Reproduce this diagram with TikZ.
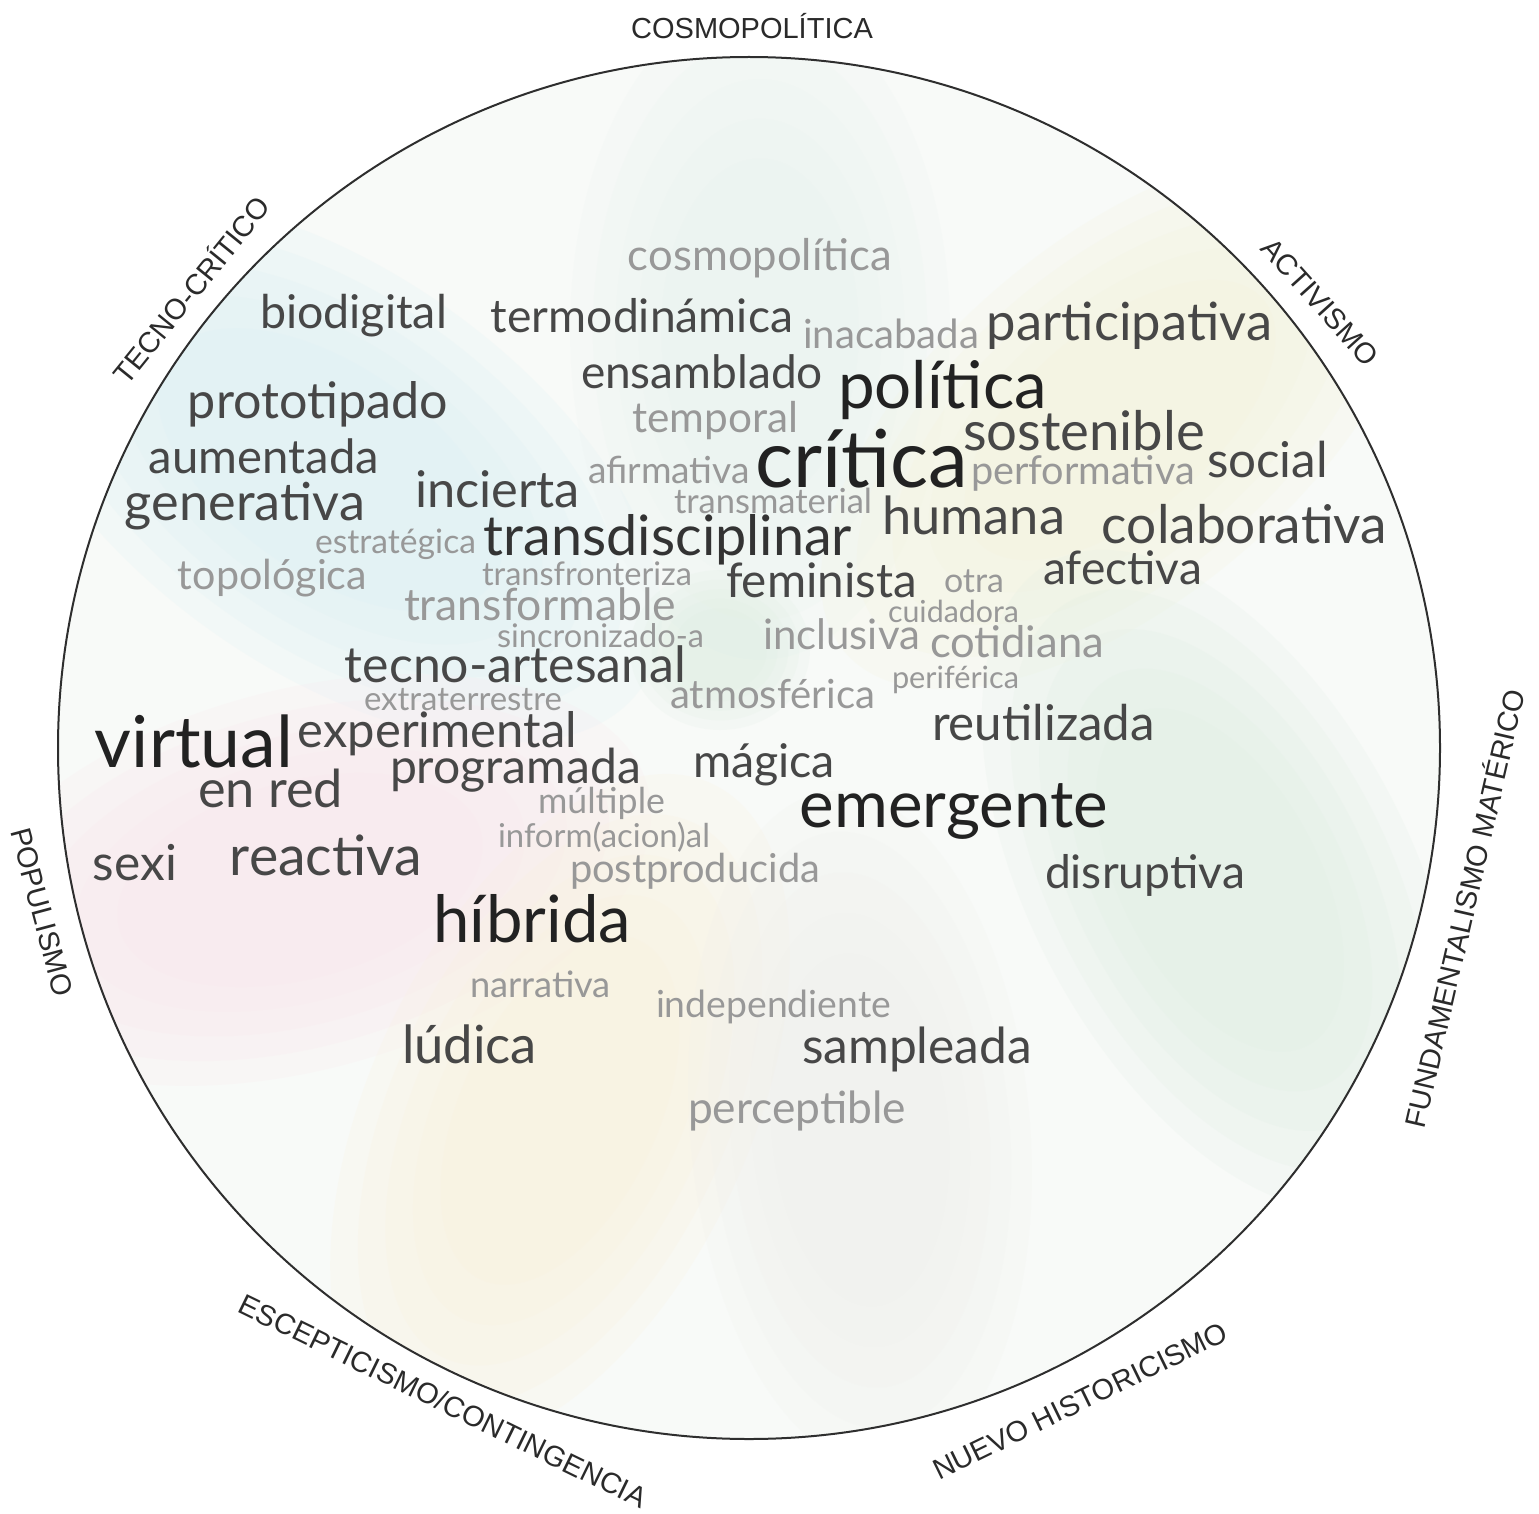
\documentclass[tikz,border=0pt]{standalone}
\usepackage{graphicx}
\usepackage{fontspec}
\setmainfont{Lato}
\newfontfamily\labelfont{Liberation Sans}
\definecolor{cdark}{HTML}{222222}
\definecolor{cdarkb}{HTML}{333333}
\definecolor{cmid}{HTML}{474747}
\definecolor{clight}{HTML}{989898}
\definecolor{clabel}{HTML}{2A2A2A}
\definecolor{cline}{HTML}{2E2E2E}
\definecolor{cbase}{HTML}{F8FAF8}
\definecolor{pblue}{HTML}{D9EFF4}
\definecolor{pgreen}{HTML}{DDEEE1}
\definecolor{ppink}{HTML}{FBE4EC}
\definecolor{pcream}{HTML}{FDF1DA}
\definecolor{pyellow}{HTML}{F4F4D8}
\definecolor{ptop}{HTML}{E8F3EF}
\definecolor{pgray}{HTML}{EFEFEC}
\tikzset{
  wordnode/.style={anchor=base, inner sep=0pt, outer sep=0pt},
  ringlabel/.style={inner sep=0pt, text=clabel, font=\labelfont\fontsize{29}{29}\selectfont}
}
% \cw{name}{center x}{baseline y}{width}{colour}{text}
\newcommand{\cw}[6]{\node[wordnode, text=#5] (#1) at (#2,-#3) {\resizebox{#4pt}{!}{\fontsize{40}{48}\selectfont #6}};}
% \softpetal{x}{y}{x radius}{y radius}{rotate}{colour}
\newcommand{\softpetal}[6]{%
  \foreach \s in {1,0.88,0.76,0.64,0.52}{%
    \fill[#6, opacity=0.17] (#1,-#2) ellipse[x radius=\s*#3, y radius=\s*#4, rotate=#5];}}
\begin{document}
\begin{tikzpicture}[x=1pt,y=1pt]
\useasboundingbox (0,0) rectangle (1539,-1514);
\coordinate (C) at (749,-748);
% background
\begin{scope}
  \clip (C) circle[radius=691];
  \fill[cbase] (C) circle[radius=691];
  \softpetal{760}{330}{330}{190}{90}{ptop}
  \softpetal{1120}{420}{360}{180}{40}{pyellow}
  \softpetal{330}{470}{380}{200}{145}{pblue}
  \softpetal{300}{880}{360}{190}{195}{ppink}
  \softpetal{560}{1110}{360}{190}{65}{pcream}
  \softpetal{860}{1130}{340}{170}{95}{pgray}
  \softpetal{1220}{880}{360}{190}{-62}{pgreen}
  \softpetal{720}{650}{90}{80}{0}{pgreen}
\end{scope}
\draw[cline, line width=2pt] (C) circle[radius=691];
% ring labels
\node[ringlabel] (lcosmo) at (752,-26) {COSMOPOLÍTICA};
\node[ringlabel, rotate=51] (ltecno) at (190,-289) {TECNO-CRÍTICO};
\node[ringlabel, rotate=-48] (lactiv) at (1320,-302) {ACTIVISMO};
\node[ringlabel, rotate=77] (lfund) at (1463,-908) {FUNDAMENTALISMO MATÉRICO};
\node[ringlabel, rotate=-75] (lpopu) at (42,-912) {POPULISMO};
\node[ringlabel, rotate=-26] (lescep) at (443,-1401) {ESCEPTICISMO/CONTINGENCIA};
\node[ringlabel, rotate=26] (lnuevo) at (1080,-1401) {NUEVO HISTORICISMO};
% words
\cw{cosmopolitica}{760}{270}{264}{clight}{cosmopolítica}
\cw{biodigital}{353.5}{328}{187}{cmid}{biodigital}
\cw{termodinamica}{642}{332}{302}{cmid}{termodinámica}
\cw{inacabada}{891}{348}{176}{clight}{inacabada}
\cw{participativa}{1129.5}{340}{285}{cmid}{participativa}
\cw{ensamblado}{702}{388}{242}{cmid}{ensamblado}
\cw{politica}{942.5}{408}{209}{cdark}{política}
\cw{prototipado}{318}{418}{260}{cmid}{prototipado}
\cw{temporal}{715}{432}{166}{clight}{temporal}
\cw{sostenible}{1084}{450}{242}{cmid}{sostenible}
\cw{aumentada}{264}{473}{230}{cmid}{aumentada}
\cw{social}{1267.5}{477}{121}{cmid}{social}
\cw{afirmativa}{669}{483}{162}{clight}{afirmativa}
\cw{critica}{861.5}{487}{213}{cdark}{crítica}
\cw{performativa}{1083}{484}{224}{clight}{performativa}
\cw{incierta}{497.5}{507}{165}{cmid}{incierta}
\cw{transmaterial}{773}{513}{198}{clight}{transmaterial}
\cw{generativa}{245}{520}{240}{cmid}{generativa}
\cw{humana}{973.5}{534}{183}{cmid}{humana}
\cw{colaborativa}{1244.5}{543}{285}{cmid}{colaborativa}
\cw{estrategica}{395.5}{553}{161}{clight}{estratégica}
\cw{transdisciplinar}{668}{555}{368}{cdarkb}{transdisciplinar}
\cw{topologica}{272.5}{589}{189}{clight}{topológica}
\cw{transfronteriza}{587}{585}{210}{clight}{transfronteriza}
\cw{afectiva}{1122.5}{584}{159}{cmid}{afectiva}
\cw{otra}{974}{592}{60}{clight}{otra}
\cw{feminista}{821.5}{597}{191}{cmid}{feminista}
\cw{transformable}{540}{620}{272}{clight}{transformable}
\cw{cuidadora}{953.5}{622}{131}{clight}{cuidadora}
\cw{sincronizado}{600.5}{647}{207}{clight}{sincronizado-a}
\cw{inclusiva}{841.5}{649}{157}{clight}{inclusiva}
\cw{cotidiana}{1017}{657}{174}{clight}{cotidiana}
\cw{tecnoartesanal}{515.5}{682}{341}{cmid}{tecno-artesanal}
\cw{periferica}{955.5}{688}{127}{clight}{periférica}
\cw{extraterrestre}{463}{710}{198}{clight}{extraterrestre}
\cw{atmosferica}{772.5}{708}{205}{clight}{atmosférica}
\cw{reutilizada}{1043.5}{740}{223}{cmid}{reutilizada}
\cw{experimental}{437.5}{747}{279}{cmid}{experimental}
\cw{virtual}{194}{767}{198}{cdark}{virtual}
\cw{magica}{764}{777}{142}{cmid}{mágica}
\cw{programada}{515.5}{783}{251}{cmid}{programada}
\cw{enred}{270.5}{807}{145}{cmid}{en red}
\cw{multiple}{601.5}{813}{127}{clight}{múltiple}
\cw{emergente}{954}{827}{308}{cdark}{emergente}
\cw{informacional}{604}{847}{212}{clight}{inform(acion)al}
\cw{reactiva}{326}{875}{192}{cmid}{reactiva}
\cw{sexi}{135}{880}{84}{cmid}{sexi}
\cw{postproducida}{695}{882}{250}{clight}{postproducida}
\cw{disruptiva}{1145}{888}{200}{cmid}{disruptiva}
\cw{hibrida}{532}{942}{198}{cdark}{híbrida}
\cw{narrativa}{540.5}{997}{141}{clight}{narrativa}
\cw{independiente}{773.5}{1017}{235}{clight}{independiente}
\cw{ludica}{469.5}{1063}{135}{cmid}{lúdica}
\cw{sampleada}{917}{1063}{230}{cmid}{sampleada}
\cw{perceptible}{797}{1123}{218}{clight}{perceptible}
\end{tikzpicture}
\end{document}
